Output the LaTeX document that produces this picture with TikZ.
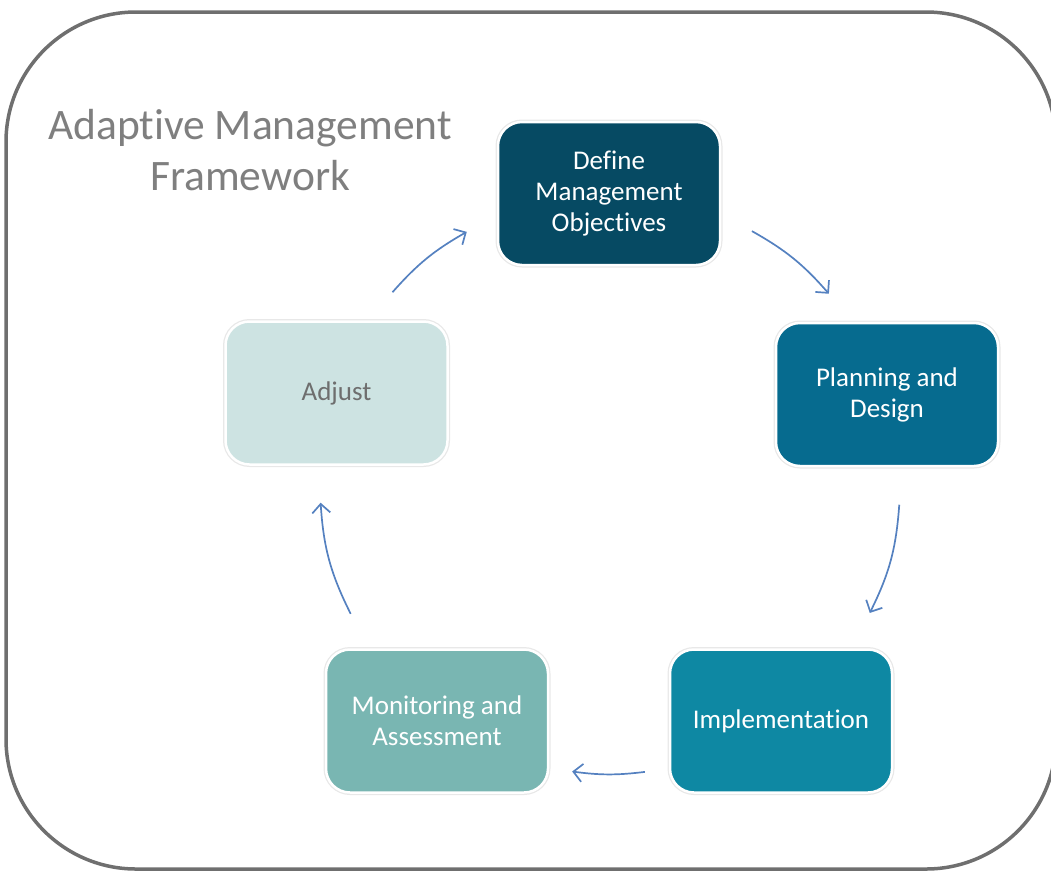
\documentclass[tikz,border=0pt]{standalone}
\usepackage{fontspec}
\setmainfont{Carlito}[Ligatures=NoCommon]
\usetikzlibrary{arrows.meta}
\definecolor{framegray}{HTML}{6F6F6F}
\definecolor{titlegray}{HTML}{7F7F7F}
\definecolor{adjgray}{HTML}{6E6E6E}
\definecolor{arrowblue}{HTML}{5581C0}
\definecolor{stageA}{HTML}{064A63}
\definecolor{stageB}{HTML}{066B8F}
\definecolor{stageC}{HTML}{0E88A3}
\definecolor{stageD}{HTML}{79B6B2}
\definecolor{stageE}{HTML}{CDE3E2}
\begin{document}
\begin{tikzpicture}[x=1pt,y=1pt,
  stage/.style={rounded corners=24pt, minimum width=222pt, minimum height=143pt,
    align=center, font=\fontsize{27}{31}\selectfont, text=white,
    draw=white, line width=2.5pt, preaction={draw=black!9, line width=5pt}},
  cyc/.style={draw=arrowblue, line width=1.7pt, -{Straight Barb[length=9pt,width=18pt]}}]
\useasboundingbox (0,0) rectangle (1051,-871);
\clip (0,0) rectangle (1051,-871);

% outer frame
\draw[framegray, line width=3.5pt, rounded corners=130pt] (6,-12) rectangle (1056,-869);

% title
\node[font=\fontsize{43.5}{51}\selectfont, text=titlegray, align=center] (title) at (250,-150)
  {Adaptive Management\\Framework};

% cycle stages
\node[stage, fill=stageA] (define) at (609,-193.5) {Define\\Management\\Objectives};
\node[stage, fill=stageB] (plan) at (887,-394.5) {Planning and\\Design};
\node[stage, fill=stageC] (impl) at (781,-721) {Implementation};
\node[stage, fill=stageD] (mon) at (437,-721) {Monitoring and\\Assessment};
\node[stage, fill=stageE, text=adjgray] (adj) at (336.5,-393) {Adjust};

% arrow ends on a circle around the cycle centre
\coordinate (cyc) at (610,-484);
\coordinate (a1s) at ([shift={(138.6:290)}]cyc);
\coordinate (a1e) at ([shift={(119.6:290)}]cyc);
\coordinate (a2s) at ([shift={(60.7:290)}]cyc);
\coordinate (a2e) at ([shift={(41.0:290)}]cyc);
\coordinate (a3s) at ([shift={(-4.1:290)}]cyc);
\coordinate (a3e) at ([shift={(-26.4:290)}]cyc);
\coordinate (a4s) at ([shift={(-83.1:290)}]cyc);
\coordinate (a4e) at ([shift={(-97.5:290)}]cyc);
\coordinate (a5s) at ([shift={(-153.4:290)}]cyc);
\coordinate (a5e) at ([shift={(-176.3:290)}]cyc);

\draw[cyc] (a1s) to[bend left=9.5] (a1e);
\draw[cyc] (a2s) to[bend left=9.8] (a2e);
\draw[cyc] (a3s) to[bend left=11.2] (a3e);
\draw[cyc] (a4s) to[bend left=7.2] (a4e);
\draw[cyc] (a5s) to[bend left=11.5] (a5e);
\end{tikzpicture}
\end{document}
